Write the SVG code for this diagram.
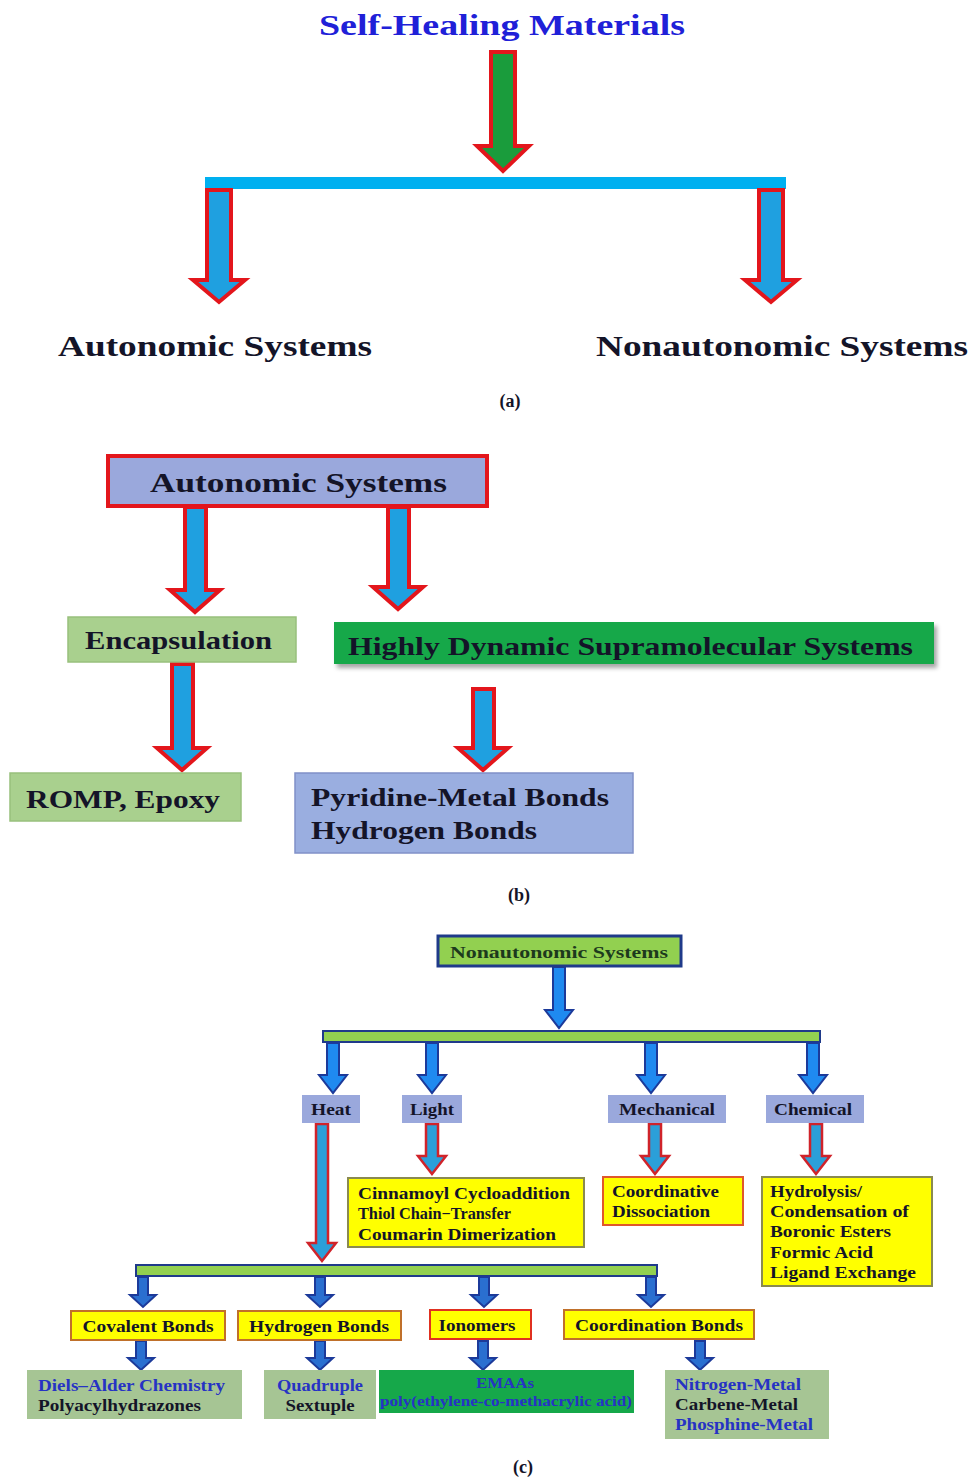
<svg xmlns="http://www.w3.org/2000/svg" width="974" height="1481" viewBox="0 0 974 1481">
<style>
text{font-family:"Liberation Serif","Times New Roman",serif;font-weight:bold;}
.dk{fill:#141428;}
.bl{fill:#2633c4;}
.ra{stroke:#e3161c;stroke-width:4;stroke-linejoin:miter;}
.rs{stroke:#d0232a;stroke-width:2.5;fill:#2b9fd9;}
.ba{stroke:#1c3a9a;stroke-width:2;fill:#1f8af0;}
.bb{stroke:#1c3a9a;stroke-width:2;fill:#2a6fd0;}
.yb{fill:#ffff00;stroke-width:2;}
.lav{fill:#9aa8dc;}
.lg{fill:#a9d08e;stroke:#98c07c;stroke-width:1.5;}
.gg{fill:#a6c594;}
.dg{fill:#16a84a;}
.bar{fill:#92d050;stroke:#1f3a8a;stroke-width:2;}
</style>
<defs>
<filter id="sh" x="-5%" y="-20%" width="110%" height="160%"><feDropShadow dx="3" dy="4" stdDeviation="2" flood-color="#000" flood-opacity="0.35"/></filter>
</defs>
<rect width="974" height="1481" fill="#ffffff"/>

<!-- (a) -->
<g id="title"><text x="502" y="35" font-size="30" text-anchor="middle" fill="#2020d8" textLength="366" lengthAdjust="spacingAndGlyphs">Self-Healing Materials</text></g>
<g id="connectors">
<!-- a -->
<path class="ra" fill="#1a9c3c" d="M491,52 H515 V146 H529 L503,171 L477,146 H491 Z"/>
<rect x="205" y="177" width="581" height="12" fill="#00b0f0"/>
<path class="ra" fill="#1fa0e0" d="M207,190 H231 V280 H245 L219,302 L193,280 H207 Z"/>
<path class="ra" fill="#1fa0e0" d="M759,190 H783 V280 H797 L771,302 L745,280 H759 Z"/>
<!-- b -->
<path class="ra" fill="#1fa0e0" d="M185,507 H206 V590 H220 L195,612 L170,590 H185 Z"/>
<path class="ra" fill="#1fa0e0" d="M388,507 H409 V587 H423 L398,609 L373,587 H388 Z"/>
<path class="ra" fill="#1fa0e0" d="M172,664 H193 V748 H207 L182,770 L157,748 H172 Z"/>
<path class="ra" fill="#1fa0e0" d="M473,689 H494 V748 H508 L483,770 L458,748 H473 Z"/>
<!-- c -->
<path class="ba" d="M553,967 H565 V1010 H573 L559,1028 L545,1010 H553 Z"/>
<rect class="bar" x="323" y="1031" width="497" height="11"/>
<path class="ba" d="M327,1043 H339 V1075 H347 L333,1093 L319,1075 H327 Z"/>
<path class="ba" d="M426,1043 H438 V1075 H446 L432,1093 L418,1075 H426 Z"/>
<path class="ba" d="M645,1043 H657 V1075 H665 L651,1093 L637,1075 H645 Z"/>
<path class="ba" d="M807,1043 H819 V1075 H827 L813,1093 L799,1075 H807 Z"/>
<path class="rs" d="M316,1124 H328 V1243 H336 L322,1261 L308,1243 H316 Z"/>
<path class="rs" d="M426,1124 H438 V1156 H446 L432,1174 L418,1156 H426 Z"/>
<path class="rs" d="M649,1124 H661 V1156 H669 L655,1174 L641,1156 H649 Z"/>
<path class="rs" d="M810,1124 H822 V1156 H830 L816,1174 L802,1156 H810 Z"/>
<rect class="bar" x="136" y="1265" width="521" height="11"/>
<path class="bb" d="M138,1277 H148 V1295 H156 L143,1307 L130,1295 H138 Z"/>
<path class="bb" d="M315,1277 H325 V1295 H333 L320,1307 L307,1295 H315 Z"/>
<path class="bb" d="M479,1277 H489 V1295 H497 L484,1307 L471,1295 H479 Z"/>
<path class="bb" d="M646,1277 H656 V1295 H664 L651,1307 L638,1295 H646 Z"/>
<path class="bb" d="M136,1341 H146 V1358 H154 L141,1370 L128,1358 H136 Z"/>
<path class="bb" d="M315,1341 H325 V1358 H333 L320,1370 L307,1358 H315 Z"/>
<path class="bb" d="M478,1341 H488 V1358 H496 L483,1370 L470,1358 H478 Z"/>
<path class="bb" d="M695,1341 H705 V1358 H713 L700,1370 L687,1358 H695 Z"/>
</g>
<g id="a-auto"><text class="dk" x="58" y="356" font-size="30" textLength="314" lengthAdjust="spacingAndGlyphs">Autonomic Systems</text></g>
<g id="a-nonauto"><text class="dk" x="596" y="356" font-size="30" textLength="372" lengthAdjust="spacingAndGlyphs">Nonautonomic Systems</text></g>
<text class="dk" x="510" y="407" font-size="18" text-anchor="middle">(a)</text>

<!-- (b) -->
<g id="b-auto"><rect x="108" y="456" width="379" height="50" class="lav" stroke="#e3161c" stroke-width="4"/>
<text class="dk" x="150" y="492" font-size="28" textLength="297" lengthAdjust="spacingAndGlyphs">Autonomic Systems</text></g>
<g id="b-encap"><rect class="lg" x="68" y="617" width="228" height="45"/>
<text class="dk" x="85" y="649" font-size="26" textLength="187" lengthAdjust="spacingAndGlyphs">Encapsulation</text></g>
<g id="b-hdss"><rect class="dg" x="334" y="622" width="600" height="42" filter="url(#sh)"/>
<text class="dk" x="348" y="655" font-size="25" textLength="565" lengthAdjust="spacingAndGlyphs">Highly Dynamic Supramolecular Systems</text></g>
<g id="b-romp"><rect class="lg" x="10" y="773" width="231" height="48"/>
<text class="dk" x="26" y="808" font-size="26" textLength="194" lengthAdjust="spacingAndGlyphs">ROMP, Epoxy</text></g>
<g id="b-pyr"><rect x="295" y="773" width="338" height="80" fill="#9aaee0" stroke="#8090c8" stroke-width="1.5"/>
<text class="dk" x="311" y="806" font-size="26" textLength="298" lengthAdjust="spacingAndGlyphs">Pyridine-Metal Bonds</text>
<text class="dk" x="311" y="839" font-size="26" textLength="226" lengthAdjust="spacingAndGlyphs">Hydrogen Bonds</text></g>
<text class="dk" x="519" y="901" font-size="18" text-anchor="middle">(b)</text>

<!-- (c) -->
<g id="c-nonauto"><rect x="438" y="936" width="243" height="30" fill="#92d050" stroke="#1f3a8a" stroke-width="3"/>
<text x="559" y="958" font-size="17" text-anchor="middle" fill="#1d3a1d" textLength="218" lengthAdjust="spacingAndGlyphs">Nonautonomic Systems</text></g>
<g id="c-heat"><rect class="lav" x="302" y="1095" width="58" height="28"/><text class="dk" x="331" y="1115" font-size="16" text-anchor="middle" textLength="40" lengthAdjust="spacingAndGlyphs">Heat</text></g>
<g id="c-light"><rect class="lav" x="402" y="1095" width="60" height="28"/><text class="dk" x="432" y="1115" font-size="16" text-anchor="middle" textLength="44" lengthAdjust="spacingAndGlyphs">Light</text></g>
<g id="c-mech"><rect class="lav" x="608" y="1095" width="118" height="28"/><text class="dk" x="667" y="1115" font-size="16" text-anchor="middle" textLength="96" lengthAdjust="spacingAndGlyphs">Mechanical</text></g>
<g id="c-chem"><rect class="lav" x="766" y="1095" width="98" height="28"/><text class="dk" x="813" y="1115" font-size="16" text-anchor="middle" textLength="78" lengthAdjust="spacingAndGlyphs">Chemical</text></g>
<g id="c-light-res"><rect class="yb" x="348" y="1178" width="236" height="69" stroke="#8a8a50"/>
<text class="dk" x="358" y="1199" font-size="16" textLength="212" lengthAdjust="spacingAndGlyphs">Cinnamoyl Cycloaddition</text>
<text class="dk" x="358" y="1219" font-size="16" textLength="153" lengthAdjust="spacingAndGlyphs">Thiol Chain−Transfer</text>
<text class="dk" x="358" y="1240" font-size="16" textLength="198" lengthAdjust="spacingAndGlyphs">Coumarin Dimerization</text></g>
<g id="c-mech-res"><rect class="yb" x="603" y="1177" width="140" height="48" stroke="#e0582a"/>
<text class="dk" x="612" y="1197" font-size="16" textLength="107" lengthAdjust="spacingAndGlyphs">Coordinative</text>
<text class="dk" x="612" y="1217" font-size="16" textLength="98" lengthAdjust="spacingAndGlyphs">Dissociation</text></g>
<g id="c-chem-res"><rect class="yb" x="762" y="1177" width="170" height="109" stroke="#8a8a50"/>
<text class="dk" x="770" y="1197" font-size="16" textLength="92" lengthAdjust="spacingAndGlyphs">Hydrolysis/</text>
<text class="dk" x="770" y="1217" font-size="16" textLength="139" lengthAdjust="spacingAndGlyphs">Condensation of</text>
<text class="dk" x="770" y="1237" font-size="16" textLength="121" lengthAdjust="spacingAndGlyphs">Boronic Esters</text>
<text class="dk" x="770" y="1258" font-size="16" textLength="103" lengthAdjust="spacingAndGlyphs">Formic Acid</text>
<text class="dk" x="770" y="1278" font-size="16" textLength="146" lengthAdjust="spacingAndGlyphs">Ligand Exchange</text></g>
<g id="c-cov"><rect class="yb" x="71" y="1311" width="154" height="29" stroke="#c0702a"/><text class="dk" x="148" y="1332" font-size="16" text-anchor="middle" textLength="131" lengthAdjust="spacingAndGlyphs">Covalent Bonds</text></g>
<g id="c-hyd"><rect class="yb" x="238" y="1311" width="163" height="29" stroke="#c0702a"/><text class="dk" x="319" y="1332" font-size="16" text-anchor="middle" textLength="140" lengthAdjust="spacingAndGlyphs">Hydrogen Bonds</text></g>
<g id="c-iono"><rect class="yb" x="430" y="1310" width="101" height="29" stroke="#e03020"/><text class="dk" x="477" y="1331" font-size="16" text-anchor="middle" textLength="77" lengthAdjust="spacingAndGlyphs">Ionomers</text></g>
<g id="c-coord"><rect class="yb" x="564" y="1310" width="190" height="29" stroke="#c0702a"/><text class="dk" x="659" y="1331" font-size="16" text-anchor="middle" textLength="168" lengthAdjust="spacingAndGlyphs">Coordination Bonds</text></g>
<g id="c-diels"><rect class="gg" x="27" y="1370" width="215" height="49"/>
<text class="bl" x="38" y="1391" font-size="16" textLength="187" lengthAdjust="spacingAndGlyphs">Diels–Alder Chemistry</text>
<text class="dk" x="38" y="1411" font-size="16" textLength="163" lengthAdjust="spacingAndGlyphs">Polyacylhydrazones</text></g>
<g id="c-quad"><rect class="gg" x="264" y="1370" width="112" height="49"/>
<text class="bl" x="320" y="1391" font-size="16" text-anchor="middle" textLength="86" lengthAdjust="spacingAndGlyphs">Quadruple</text>
<text class="dk" x="320" y="1411" font-size="16" text-anchor="middle" textLength="69" lengthAdjust="spacingAndGlyphs">Sextuple</text></g>
<g id="c-emaa"><rect class="dg" x="379" y="1370" width="255" height="43"/>
<text class="bl" x="505" y="1388" font-size="14" text-anchor="middle" textLength="58" lengthAdjust="spacingAndGlyphs">EMAAs</text>
<text class="bl" x="506" y="1406" font-size="14" text-anchor="middle" textLength="252" lengthAdjust="spacingAndGlyphs">poly(ethylene-co-methacrylic acid)</text></g>
<g id="c-nitro"><rect class="gg" x="665" y="1370" width="164" height="69"/>
<text class="bl" x="675" y="1390" font-size="16" textLength="126" lengthAdjust="spacingAndGlyphs">Nitrogen-Metal</text>
<text class="dk" x="675" y="1410" font-size="16" textLength="123" lengthAdjust="spacingAndGlyphs">Carbene-Metal</text>
<text class="bl" x="675" y="1430" font-size="16" textLength="138" lengthAdjust="spacingAndGlyphs">Phosphine-Metal</text></g>
<text class="dk" x="523" y="1473" font-size="18" text-anchor="middle">(c)</text>
</svg>
